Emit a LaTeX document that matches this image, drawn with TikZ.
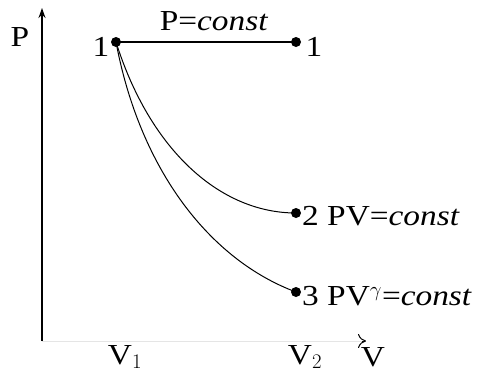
\documentclass[tikz,border=0pt]{standalone}
\usepackage{fontspec}
\setmainfont[FakeStretch=1.15]{Liberation Serif}
\usetikzlibrary{arrows.meta,calc}
\begin{document}
\begin{tikzpicture}[x=1pt,y=-1pt,
  lbl/.style={inner sep=0pt,font=\fontsize{29}{33}\selectfont},
  dotpt/.style={circle,fill=black,inner sep=0pt,minimum size=10pt},
  curve/.style={line width=1pt}]
\useasboundingbox (0,0) rectangle (483,378);
% axes
\coordinate (O) at (42,341);
\coordinate (Ptop) at (42,8);
\coordinate (Vend) at (366,341);
\coordinate (Vtail) at (362,341);
\draw[line width=1.6pt,-{Stealth[length=10pt,width=7pt]}] (O) -- (Ptop);
\draw[gray!20,line width=0.8pt] (O) -- (Vend);
\draw[line width=1pt,-{To[length=8pt,width=14pt]}] (Vtail) -- (Vend);
% points
\node[dotpt] (p1) at (116,42) {};
\node[dotpt] (p1b) at (296,42) {};
\node[dotpt] (p2) at (296,213) {};
\node[dotpt] (p3) at (296,292) {};
% lines
\draw[line width=1.6pt] (p1.center) -- (p1b.center);
\draw[curve] (p1.center) .. controls (150,150) and (220,213) .. (p2.center);
\draw[curve] (p1.center) .. controls (140,170) and (210,260) .. (p3.center);
% labels
\node[lbl] (lP) at (20,37) {P};
\node[lbl] (l1) at (101,47) {1};
\node[lbl] (l1b) at (314,47) {1};
\node[lbl] (lPc) at (214,21) {P=\textit{const}};
\node[lbl,anchor=west] (l2) at (302,216) {2 PV=\textit{const}};
\node[lbl,anchor=west] (l3) at (302,296) {3 PV$^{\gamma}$=\textit{const}};
\node[lbl] (lV1) at (125,357) {V$_1$};
\node[lbl] (lV2) at (305,357) {V$_2$};
\node[lbl] (lV) at (373,357) {V};
\end{tikzpicture}
\end{document}
